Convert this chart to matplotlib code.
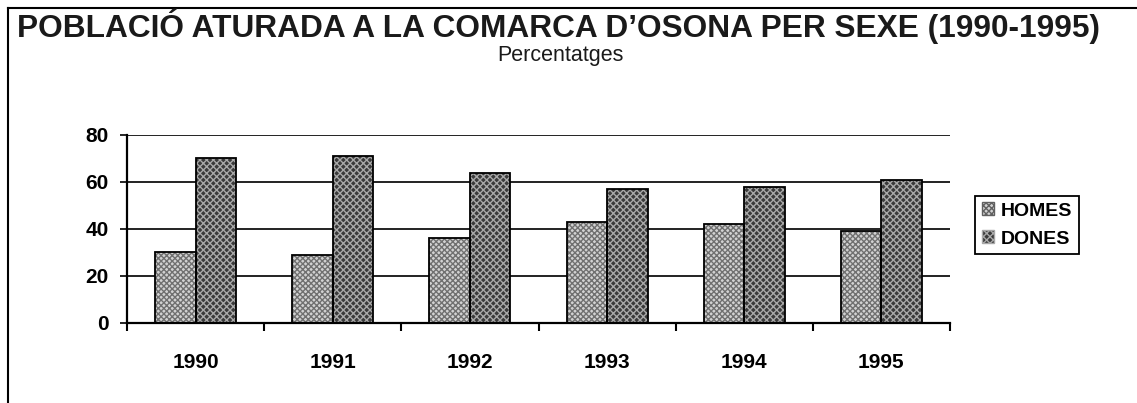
import matplotlib
matplotlib.use("Agg")
import matplotlib.pyplot as plt
import numpy as np
from matplotlib.lines import Line2D
from matplotlib.patches import Patch

years = ["1990", "1991", "1992", "1993", "1994", "1995"]
homes = [30, 29, 36, 43, 42, 39]
dones = [70, 71, 64, 57, 58, 61]
series_names = ["HOMES", "DONES"]
yticks = [0, 20, 40, 60, 80]

plt.rcParams['font.family'] = ['Liberation Sans', 'DejaVu Sans']
plt.rcParams['hatch.linewidth'] = 1.0

W, H = 1137, 403
fig = plt.figure(figsize=(W / 100, H / 100), dpi=100)

# outer frame (left and top lines)
fig.add_artist(Line2D([8 / W, 8 / W], [0, 1 - 8 / H], color='black', lw=1.5))
fig.add_artist(Line2D([8 / W, 1], [1 - 8 / H, 1 - 8 / H], color='black', lw=1.5))

fig.text(17 / W, 1 - 26 / H, "POBLACIÓ ATURADA A LA COMARCA D\u2019OSONA PER SEXE (1990-1995)",
         fontsize=22.8, fontweight='bold', ha='left', va='center', color='#1a1a1a')
fig.text(560 / W, 1 - 56 / H, "Percentatges", fontsize=15.5, ha='center', va='center',
         color='#1a1a1a')

left, right, top, bottom = 127, 950, 135, 322.5
ax = fig.add_axes([left / W, 1 - bottom / H, (right - left) / W, (bottom - top) / H])

x = np.arange(len(years))
bw = 0.295
# textured fills
ax.bar(x - bw / 2, homes, bw, color='#d2d2d2', hatch='xxxxxx', edgecolor='#707070',
       linewidth=0, zorder=3)
ax.bar(x + bw / 2, dones, bw, color='#3a3a3a', hatch='xxxxx', edgecolor='#a8a8a8',
       linewidth=0, zorder=3)
# outlines
ax.bar(x - bw / 2, homes, bw, fill=False, edgecolor='black', linewidth=1.3, zorder=4)
ax.bar(x + bw / 2, dones, bw, fill=False, edgecolor='black', linewidth=1.3, zorder=4)

ax.set_xlim(-0.5, len(years) - 0.5)
ax.set_ylim(0, 80)
ax.set_yticks(yticks)
ax.set_yticklabels([str(v) for v in yticks], fontsize=15, fontweight='bold')
ax.set_xticks(x)
ax.set_xticklabels(years, fontsize=15, fontweight='bold')
ax.set_xticks(np.arange(-0.5, len(years)), minor=True)
ax.tick_params(axis='x', which='major', length=0, pad=22)
ax.tick_params(axis='x', which='minor', length=6, width=1.5, direction='out')
ax.tick_params(axis='y', length=5, width=1.2, direction='out', pad=8)

for v in yticks[1:]:
    ax.axhline(v, color='#222222', lw=1.4, zorder=1)

for s in ['top', 'right']:
    ax.spines[s].set_visible(False)
ax.spines['left'].set_linewidth(1.6)
ax.spines['bottom'].set_linewidth(1.6)
ax.spines['bottom'].set_zorder(5)

handles = [Patch(facecolor='#d2d2d2', hatch='xxxxxx', edgecolor='#606060'),
           Patch(facecolor='#3a3a3a', hatch='xxxxx', edgecolor='#a8a8a8')]
leg = fig.legend(handles, series_names, loc='center', bbox_to_anchor=(1027 / W, 1 - 225 / H),
                 prop={'size': 14, 'weight': 'bold'}, handlelength=0.65, handleheight=0.65,
                 handletextpad=0.35, labelspacing=0.55, borderpad=0.35, borderaxespad=0,
                 fancybox=False, edgecolor='black', framealpha=1)
leg.get_frame().set_linewidth(1.3)

fig.savefig("out.png", dpi=100)
